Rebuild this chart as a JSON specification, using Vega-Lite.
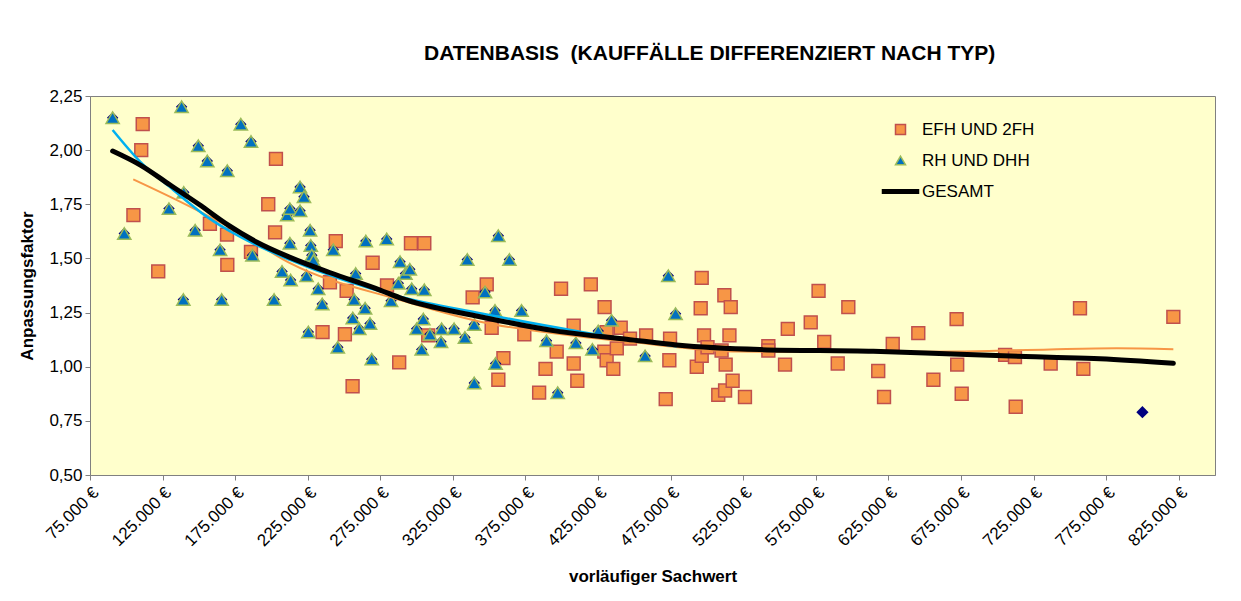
{
  "$schema": "https://vega.github.io/schema/vega-lite/v6.json",
  "width": 1125,
  "height": 379,
  "autosize": "none",
  "padding": {"left": 90, "top": 96, "right": 26, "bottom": 126},
  "background": "white",
  "title": {
    "text": "DATENBASIS\u00a0\u00a0(KAUFFÄLLE DIFFERENZIERT NACH TYP)",
    "font": "Liberation Sans", "fontSize": 21, "fontWeight": "bold", "color": "black",
    "anchor": "start", "frame": "group", "dx": 334, "offset": 23
  },
  "config": {
    "view": {"fill": "#FFFFCC", "stroke": "#808080", "strokeWidth": 1},
    "axis": {
      "labelFont": "Liberation Sans", "labelFontSize": 17, "labelColor": "black",
      "titleFont": "Liberation Sans", "titleFontSize": 17, "titleFontWeight": "bold", "titleColor": "black",
      "grid": false, "domainColor": "#808080", "tickColor": "#808080", "tickSize": 5
    },
    "legend": {
      "labelFont": "Liberation Sans", "labelFontSize": 17, "labelColor": "black"
    }
  },
  "datasets": {
    "efh": [
      {"x":104900,"y":1.70},{"x":110300,"y":2.00},{"x":111300,"y":2.12},{"x":122000,"y":1.44},{"x":157600,"y":1.66},
      {"x":169400,"y":1.61},{"x":169600,"y":1.47},{"x":185900,"y":1.53},{"x":197800,"y":1.75},{"x":202500,"y":1.62},
      {"x":203100,"y":1.96},{"x":235200,"y":1.16},{"x":240300,"y":1.39},{"x":244300,"y":1.58},{"x":250600,"y":1.15},
      {"x":251800,"y":1.35},{"x":255900,"y":0.91},{"x":269700,"y":1.48},{"x":279600,"y":1.375},{"x":288000,"y":1.02},
      {"x":296100,"y":1.57},{"x":305300,"y":1.57},{"x":308000,"y":1.145},{"x":338600,"y":1.32},{"x":348300,"y":1.38},
      {"x":351700,"y":1.18},{"x":356300,"y":0.94},{"x":359800,"y":1.04},{"x":374200,"y":1.15},{"x":384400,"y":0.88},
      {"x":388800,"y":0.99},{"x":396500,"y":1.07},{"x":399500,"y":1.36},{"x":408200,"y":1.19},{"x":408200,"y":1.015},
      {"x":410700,"y":0.935},{"x":420000,"y":1.38},{"x":429500,"y":1.275},{"x":430900,"y":1.16},{"x":429300,"y":1.07},
      {"x":430900,"y":1.03},{"x":435500,"y":0.99},{"x":437900,"y":1.085},{"x":440600,"y":1.18},{"x":447000,"y":1.13},
      {"x":458100,"y":1.145},{"x":471600,"y":0.85},{"x":474100,"y":1.03},{"x":474600,"y":1.13},{"x":493000,"y":1.00},
      {"x":495700,"y":1.27},{"x":496400,"y":1.41},{"x":496400,"y":1.05},{"x":498000,"y":1.145},{"x":500400,"y":1.09},
      {"x":507800,"y":0.87},{"x":510100,"y":1.075},{"x":512000,"y":1.33},{"x":512500,"y":0.89},{"x":512900,"y":1.01},
      {"x":515500,"y":1.145},{"x":516400,"y":1.275},{"x":517700,"y":0.935},{"x":526200,"y":0.86},{"x":542300,"y":1.095},
      {"x":542300,"y":1.075},{"x":553800,"y":1.01},{"x":555700,"y":1.175},{"x":571500,"y":1.205},{"x":576900,"y":1.35},
      {"x":580800,"y":1.115},{"x":590100,"y":1.015},{"x":597400,"y":1.275},{"x":618000,"y":0.98},{"x":622000,"y":0.86},
      {"x":628000,"y":1.105},{"x":645600,"y":1.155},{"x":656000,"y":0.94},{"x":672000,"y":1.22},{"x":672400,"y":1.01},
      {"x":675500,"y":0.875},{"x":705400,"y":1.055},{"x":712200,"y":1.045},{"x":712700,"y":0.815},{"x":736800,"y":1.015},
      {"x":757000,"y":1.27},{"x":759300,"y":0.99},{"x":821300,"y":1.23}
    ],
    "rh": [
      {"x":90600,"y":2.15},{"x":98600,"y":1.615},{"x":129400,"y":1.73},{"x":138100,"y":2.20},{"x":139600,"y":1.805},
      {"x":139300,"y":1.31},{"x":147400,"y":1.63},{"x":149600,"y":2.02},{"x":155800,"y":1.95},{"x":164600,"y":1.54},
      {"x":165700,"y":1.31},{"x":169600,"y":1.905},{"x":178900,"y":2.12},{"x":185900,"y":2.04},{"x":186900,"y":1.515},
      {"x":201800,"y":1.31},{"x":207300,"y":1.44},{"x":210800,"y":1.70},{"x":212700,"y":1.73},{"x":212700,"y":1.57},
      {"x":213200,"y":1.40},{"x":219700,"y":1.83},{"x":219700,"y":1.72},{"x":222400,"y":1.785},{"x":224200,"y":1.42},
      {"x":225400,"y":1.16},{"x":226600,"y":1.63},{"x":227100,"y":1.56},{"x":227800,"y":1.515},{"x":228900,"y":1.49},
      {"x":232200,"y":1.36},{"x":235000,"y":1.29},{"x":242600,"y":1.54},{"x":245700,"y":1.09},{"x":256000,"y":1.225},
      {"x":257000,"y":1.31},{"x":258000,"y":1.43},{"x":260500,"y":1.175},{"x":264500,"y":1.27},{"x":265000,"y":1.58},
      {"x":267900,"y":1.20},{"x":269100,"y":1.035},{"x":279400,"y":1.59},{"x":282400,"y":1.305},{"x":287400,"y":1.385},
      {"x":288600,"y":1.485},{"x":292300,"y":1.43},{"x":295300,"y":1.45},{"x":296600,"y":1.36},{"x":300000,"y":1.175},
      {"x":303500,"y":1.08},{"x":304600,"y":1.22},{"x":305300,"y":1.355},{"x":309200,"y":1.15},{"x":316800,"y":1.115},
      {"x":317200,"y":1.175},{"x":325800,"y":1.175},{"x":333300,"y":1.135},{"x":334900,"y":1.495},{"x":339700,"y":1.195},
      {"x":339700,"y":0.925},{"x":347100,"y":1.345},{"x":354000,"y":1.26},{"x":354400,"y":1.015},{"x":356300,"y":1.605},
      {"x":363900,"y":1.495},{"x":372300,"y":1.26},{"x":389500,"y":1.12},{"x":397200,"y":0.88},{"x":409700,"y":1.11},
      {"x":421100,"y":1.08},{"x":425100,"y":1.165},{"x":434300,"y":1.215},{"x":457400,"y":1.05},{"x":473400,"y":1.42},
      {"x":478400,"y":1.245}
    ],
    "gesamtPunkt": [{"x":800000,"y":0.79}],
    "trendEfh": [
      {"x":104800,"y":1.865},{"x":143900,"y":1.739},{"x":178300,"y":1.616},{"x":212800,"y":1.478},{"x":288600,"y":1.308},
      {"x":343700,"y":1.208},{"x":412600,"y":1.139},{"x":444700,"y":1.116},{"x":522800,"y":1.07},{"x":614600,"y":1.068},
      {"x":674300,"y":1.07},{"x":736300,"y":1.08},{"x":782300,"y":1.085},{"x":821300,"y":1.081}
    ],
    "trendRh": [
      {"x":90600,"y":2.093},{"x":109500,"y":1.947},{"x":132400,"y":1.816},{"x":155400,"y":1.693},{"x":178300,"y":1.60},
      {"x":212800,"y":1.493},{"x":288600,"y":1.323},{"x":343700,"y":1.247},{"x":412600,"y":1.162},{"x":479200,"y":1.093}
    ],
    "trendGesamt": [
      {"x":90600,"y":1.996},{"x":110000,"y":1.93},{"x":130000,"y":1.84},{"x":150000,"y":1.75},{"x":170000,"y":1.655},
      {"x":190000,"y":1.575},{"x":212800,"y":1.505},{"x":240000,"y":1.435},{"x":274800,"y":1.354},{"x":288600,"y":1.318},
      {"x":343700,"y":1.231},{"x":398800,"y":1.162},{"x":444700,"y":1.127},{"x":479200,"y":1.10},{"x":536600,"y":1.079},
      {"x":614600,"y":1.071},{"x":674300,"y":1.057},{"x":736300,"y":1.044},{"x":770800,"y":1.037},{"x":821300,"y":1.016}
    ]
  },
  "encoding": {
    "x": {
      "field": "x", "type": "quantitative",
      "scale": {"domain": [75000, 850000], "nice": false, "zero": false},
      "axis": {
        "title": "vorläufiger Sachwert", "titlePadding": 20,
        "values": [75000,125000,175000,225000,275000,325000,375000,425000,475000,525000,575000,625000,675000,725000,775000,825000],
        "labelExpr": "replace(format(datum.value, ',.0f'), ',', '.') + ' €'",
        "labelAngle": -45, "labelPadding": 4, "labelOverlap": false, "labelFlush": false
      }
    },
    "y": {
      "field": "y", "type": "quantitative",
      "scale": {"domain": [0.5, 2.25], "nice": false, "zero": false},
      "axis": {
        "title": "Anpassungsfaktor", "titlePadding": 12,
        "values": [0.5,0.75,1,1.25,1.5,1.75,2,2.25],
        "labelExpr": "replace(format(datum.value, '.2f'), '.', ',')",
        "labelOverlap": false, "labelFlush": false, "labelPadding": 3
      }
    }
  },
  "layer": [
    {
      "data": {"name": "efh"},
      "transform": [{"calculate": "'EFH UND 2FH'", "as": "typ"}],
      "mark": {"type": "point", "filled": true, "opacity": 1, "strokeWidth": 1.5, "size": 165},
      "encoding": {
        "shape": {"field": "typ", "type": "nominal",
          "scale": {"domain": ["EFH UND 2FH", "RH UND DHH", "GESAMT"], "range": ["square", "triangle-up", "M-3.6,-0.35L3.6,-0.35L3.6,0.35L-3.6,0.35Z"]}},
        "fill": {"field": "typ", "type": "nominal",
          "scale": {"domain": ["EFH UND 2FH", "RH UND DHH", "GESAMT"], "range": ["#F79646", "#0070C0", "#000000"]},
          "legend": {
            "title": null, "orient": "none", "legendX": 802, "legendY": 25, "padding": 0,
            "symbolSize": 100, "symbolStrokeWidth": 1.5, "rowPadding": 13, "labelOffset": 13
          }},
        "stroke": {"field": "typ", "type": "nominal",
          "scale": {"domain": ["EFH UND 2FH", "RH UND DHH", "GESAMT"], "range": ["#C0504D", "#9BBB59", "#000000"]}}
      }
    },
    {
      "data": {"name": "rh"},
      "mark": {"type": "point", "filled": true, "opacity": 1, "shape": "diamond", "size": 130, "color": "#000080"}
    },
    {
      "data": {"name": "rh"},
      "transform": [{"calculate": "'RH UND DHH'", "as": "typ"}],
      "mark": {"type": "point", "filled": true, "opacity": 1, "strokeWidth": 1.5, "size": 175},
      "encoding": {
        "shape": {"field": "typ", "type": "nominal"},
        "fill": {"field": "typ", "type": "nominal"},
        "stroke": {"field": "typ", "type": "nominal"}
      }
    },
    {
      "data": {"name": "gesamtPunkt"},
      "mark": {"type": "point", "filled": true, "opacity": 1, "shape": "diamond", "size": 150, "color": "#000080"}
    },
    {
      "data": {"name": "trendEfh"},
      "mark": {"type": "line", "interpolate": "monotone", "color": "#F79646", "strokeWidth": 2}
    },
    {
      "data": {"name": "trendRh"},
      "mark": {"type": "line", "interpolate": "monotone", "color": "#00B0F0", "strokeWidth": 2.5}
    },
    {
      "data": {"name": "trendGesamt"},
      "mark": {"type": "line", "interpolate": "monotone", "color": "#000000", "strokeWidth": 5, "strokeCap": "round"}
    }
  ]
}
